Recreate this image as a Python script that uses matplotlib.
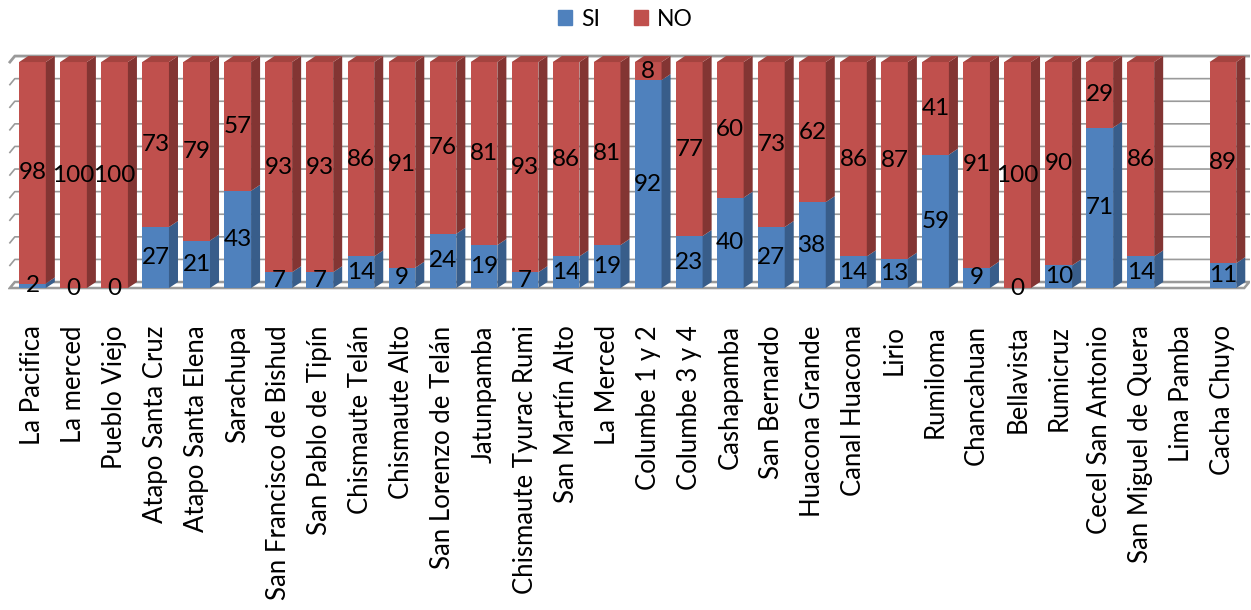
import numpy as np
import matplotlib
matplotlib.use('Agg')
import matplotlib.pyplot as plt
from matplotlib.patches import Polygon, Patch

plt.rcParams['font.family'] = ['Lato', 'DejaVu Sans']

comunidades = ['La Pacifica', 'La merced', 'Pueblo Viejo', 'Atapo Santa Cruz', 'Atapo Santa Elena',
               'Sarachupa', 'San Francisco de Bishud', 'San Pablo de Tipín', 'Chismaute Telán',
               'Chismaute Alto', 'San Lorenzo de Telán', 'Jatunpamba', 'Chismaute Tyurac Rumi',
               'San Martín Alto', 'La Merced', 'Columbe 1 y 2', 'Columbe 3 y 4', 'Cashapamba',
               'San Bernardo', 'Huacona Grande', 'Canal Huacona', 'Lirio', 'Rumiloma', 'Chancahuan',
               'Bellavista', 'Rumicruz', 'Cecel San Antonio', 'San Miguel de Quera', 'Lima Pamba',
               'Cacha Chuyo']
si = [2, 0, 0, 27, 21, 43, 7, 7, 14, 9, 24, 19, 7, 14, 19, 92, 23, 40, 27, 38, 14, 13, 59, 9,
      0, 10, 71, 14, np.nan, 11]
no = [98, 100, 100, 73, 79, 57, 93, 93, 86, 91, 76, 81, 93, 86, 81, 8, 77, 60, 73, 62, 86, 87,
      41, 91, 100, 90, 29, 86, np.nan, 89]

# colours (front, side, top)
c_si = ('#4F81BD', '#385D8A', '#41699A')
c_no = ('#C0504D', '#833533', '#A4433F')
grid_col = '#9a9a9a'

width = 0.65
dx, dy = 0.22, 2.65      # depth of the 3d bars
dxw = 0.12               # left wall slant

fig = plt.figure(figsize=(12.51, 6.10), dpi=100)
ax = fig.add_axes([8 / 1251, 1 - 294.8 / 610, 1242 / 1251, 241.8 / 610])
xL, xR = -0.55, 29.64
ax.set_xlim(-0.596, 29.66)
ax.set_ylim(-3, 104)

x = np.arange(len(comunidades))

# back wall grid lines
for v in range(0, 101, 10):
    lw = 2.0 if v == 100 else 1.2
    ax.plot([xL, xL + dxw, xR], [v, v + dy, v + dy], color=grid_col, lw=lw, zorder=1)
# floor
floor = Polygon([(xL, 0), (xR - dxw, 0), (xR, dy), (xL + dxw, dy)], closed=True,
                facecolor='white', edgecolor=grid_col, lw=1.8, zorder=1.5)
ax.add_patch(floor)

si_arr = np.array(si, dtype=float)
no_arr = np.array(no, dtype=float)
ax.bar(x, si_arr, width=width, color=c_si[0], zorder=2)
ax.bar(x, no_arr, width=width, bottom=si_arr, color=c_no[0], zorder=2)

for i in range(len(x)):
    if np.isnan(si_arr[i]):
        continue
    r = x[i] + width / 2
    l = x[i] - width / 2
    y0 = 0.0
    for val, cols in ((si_arr[i], c_si), (no_arr[i], c_no)):
        y1 = y0 + val
        if val > 0:
            ax.add_patch(Polygon([(r, y0), (r + dx, y0 + dy), (r + dx, y1 + dy), (r, y1)],
                                 closed=True, facecolor=cols[1], edgecolor='none', zorder=2))
        y0 = y1
    topcol = c_no[2] if no_arr[i] > 0 else c_si[2]
    ax.add_patch(Polygon([(l, y0), (l + dx, y0 + dy), (r + dx, y0 + dy), (r, y0)],
                         closed=True, facecolor=topcol, edgecolor='none', zorder=2))
    # value labels
    ax.text(x[i], si_arr[i] / 2, f'{si_arr[i]:.0f}', ha='center', va='center',
            fontsize=17.5, color='black', zorder=5)
    ax.text(x[i], si_arr[i] + no_arr[i] / 2, f'{no_arr[i]:.0f}', ha='center', va='center',
            fontsize=17.5, color='black', zorder=5)

ax.set_xticks(x)
ax.set_xticklabels(comunidades, rotation=90, fontsize=18.5, va='top', ha='center')
ax.tick_params(axis='x', length=0, pad=22)
ax.set_yticks([])
for s in ax.spines.values():
    s.set_visible(False)

handles = [Patch(color=c_si[0], label='SI'), Patch(color=c_no[0], label='NO')]
fig.legend(handles=handles, loc='center', bbox_to_anchor=(0.5, 1 - 19 / 610), ncol=2,
           frameon=False, fontsize=16.5, handlelength=0.6, handleheight=0.6,
           handletextpad=0.4, columnspacing=1.5)

fig.savefig('out.png', dpi=100)
